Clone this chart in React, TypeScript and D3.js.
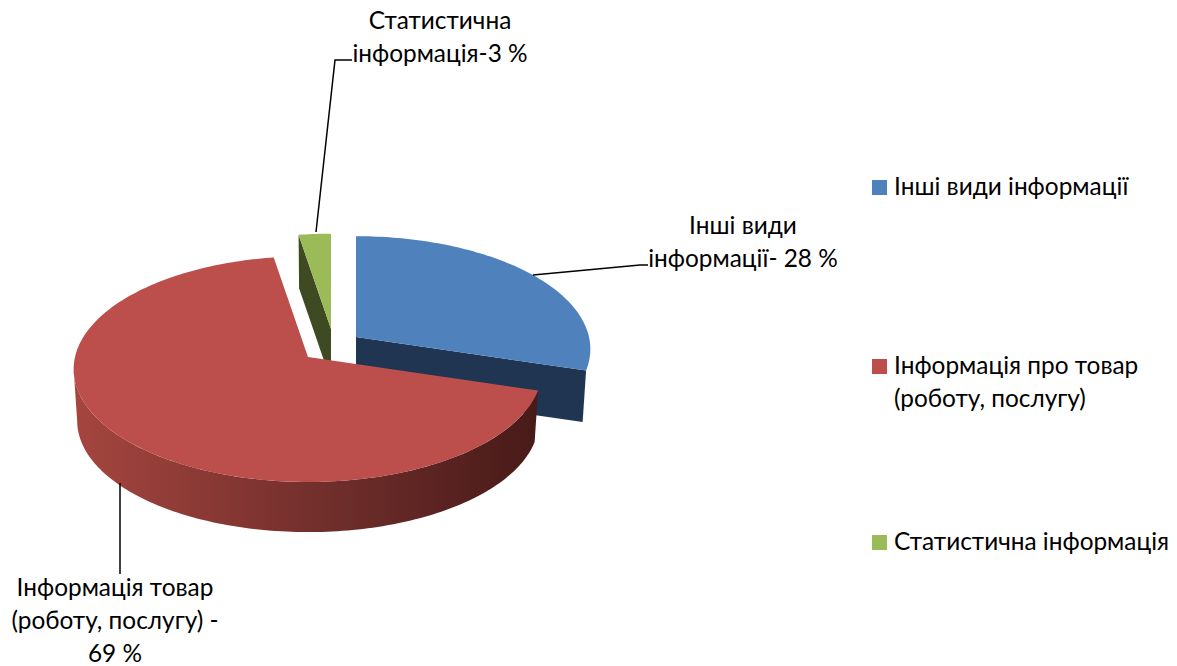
import React from "react";
import * as d3 from "d3";

const categories = ["Інші види інформації", "Інформація про товар", "Статистична інформація"];
const shares = [29.7, 67.7, 2.6];
const topColors = ["#4f81bd", "#bc4f4c", "#9bbb59"];
const cutColors = ["#1f3552", "#5a2120", "#3f4a22"];

const legendLines = [["Інші види інформації"], ["Інформація про товар", "(роботу, послугу)"], ["Статистична інформація"]];
const dataLabels = [["Інші види", "інформації- 28 %"], ["Інформація товар", "(роботу, послугу) -", "69 %"], ["Статистична", "інформація-3 %"]];

const FONT = "Lato, 'Open Sans', sans-serif";
const FONT_SIZE = 24.4;
const W = 1177;
const H = 666;

// pie projection
const RX = 233;
const RY = 111.6;
const PERSP = 0.107;
const DEPTH = 52;
const LOW_SCALE = 0.985;

const apexes: [number, number][] = [[356, 337], [308, 357], [331, 329]];
const radiusFactor = [1, 1, 0.94];
const labelCenter = [743, 115, 440];
const labelTop = [234, 596, 29];
const leaders = [
  [[533, 275], [640, 265], [648, 265]],
  [[120, 483], [120, 574]],
  [[316, 232], [335, 60], [352, 60]],
];
const legendY = [195, 374, 550];

function project(apex: [number, number], angle: number, r: number, low: boolean): [number, number] {
  const u = r * Math.sin(angle);
  const v = -r * Math.cos(angle);
  const k = (1 / (1 - PERSP * v)) * (low ? LOW_SCALE : 1);
  return [apex[0] + RX * u * k, apex[1] + RY * v * k + (low ? DEPTH : 0)];
}

const line = d3.line();

function rim(apex: [number, number], a0: number, a1: number, r: number, low: boolean) {
  const n = Math.max(2, Math.ceil(Math.abs(a1 - a0) / 0.02));
  return d3.range(n + 1).map((i) => project(apex, a0 + ((a1 - a0) * i) / n, r, low));
}

export default function App() {
  const arcs = d3.pie<number>().sort(null).startAngle(0).endAngle(2 * Math.PI)(shares);
  const HALF = Math.PI / 2;
  const gradientScale = d3.scaleLinear<string>().domain([0, 0.5, 1]).range(["#a6453f", "#75302d", "#481b19"]);

  const faces = arcs.map((d, i) => {
    const apex = apexes[i];
    const r = radiusFactor[i];
    const a0 = d.startAngle;
    const a1 = d.endAngle;
    const top = line([apex, ...rim(apex, a0, a1, r, false)]) + "Z";
    // outer wall of the big slice, up to the left silhouette of the rim
    const wall =
      i === 1
        ? line([...rim(apex, a0, 3 * HALF - PERSP, r, false), ...rim(apex, 3 * HALF - PERSP, a0, r, true)]) + "Z"
        : null;
    // cut face along the edge that looks towards the viewer
    const cutAngle = i === 2 ? a0 : a1;
    const cutEdge = project(apex, cutAngle, r, false);
    const cutLow = project(apex, cutAngle, r, true);
    const apexLow: [number, number] = [apex[0], apex[1] + DEPTH];
    const cut = line([apex, cutEdge, cutLow, apexLow]) + "Z";
    return { top, wall, cut };
  });

  return (
    <svg width={W} height={H} style={{ position: "absolute", left: 0, top: 0 }} fontFamily={FONT} fontSize={FONT_SIZE} fill="#000">
      <defs>
        <linearGradient id="redWall" gradientUnits="userSpaceOnUse" x1={74} x2={535} y1={0} y2={0}>
          {d3.range(0, 1.01, 0.1).map((t) => (
            <stop key={t} offset={t} stopColor={gradientScale(t)} />
          ))}
        </linearGradient>
      </defs>

      {/* back to front: green, blue, red */}
      {[2, 0, 1].map((i) => (
        <g key={categories[i]}>
          {i !== 1 && <path d={faces[i].cut} fill={cutColors[i]} />}
          {faces[i].wall && <path d={faces[i].wall!} fill="url(#redWall)" />}
          <path d={faces[i].top} fill={topColors[i]} />
        </g>
      ))}

      {leaders.map((pts, i) => (
        <path key={i} d={line(pts as [number, number][])!} fill="none" stroke="#000" strokeWidth={1.5} />
      ))}

      {dataLabels.map((lines, i) =>
        lines.map((t, j) => (
          <text key={t} x={labelCenter[i]} y={labelTop[i] + j * 33} textAnchor="middle">
            {t}
          </text>
        ))
      )}

      {legendLines.map((lines, i) => (
        <g key={i}>
          <rect x={872} y={legendY[i] - 15} width={15} height={15} fill={topColors[i]} />
          {lines.map((t, j) => (
            <text key={t} x={894} y={legendY[i] + j * 33}>
              {t}
            </text>
          ))}
        </g>
      ))}
    </svg>
  );
}
